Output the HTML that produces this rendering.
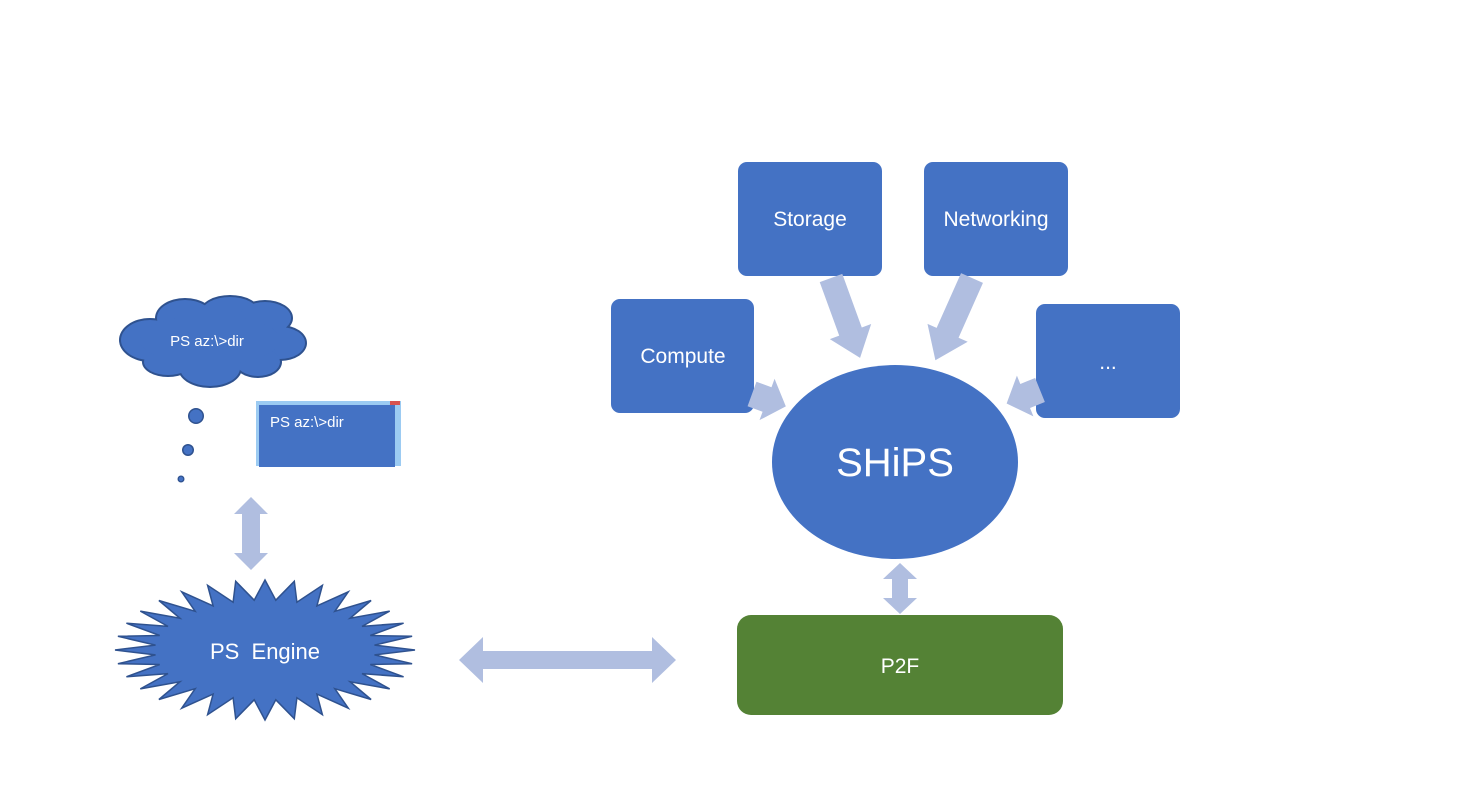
<!DOCTYPE html>
<html><head><style>
body{margin:0;background:#fff;width:1459px;height:801px;overflow:hidden}
svg text{font-family:"Liberation Sans","DejaVu Sans",sans-serif;fill:#fff}
</style></head><body>
<svg width="1459" height="801" viewBox="0 0 1459 801" xmlns="http://www.w3.org/2000/svg">
<g fill="#4472C4">
<rect x="738" y="162" width="144" height="114" rx="9"/>
<rect x="924" y="162" width="144" height="114" rx="9"/>
<rect x="611" y="299" width="143" height="114" rx="9"/>
<rect x="1036" y="304" width="144" height="114" rx="9"/>
<ellipse cx="895" cy="462" rx="123" ry="97"/>
</g>
<rect x="737" y="615" width="326" height="100" rx="14" fill="#548235"/>
<g fill="#B0BEE0">
<g transform="translate(831,278) rotate(70)"><polygon points="0,-12 57,-12 57,-22 85,0 57,22 57,12 0,12"/></g>
<g transform="translate(972,278) rotate(114)"><polygon points="0,-12 60,-12 60,-22 90,0 60,22 60,12 0,12"/></g>
<g transform="translate(752,394) rotate(20)"><polygon points="0,-13 16,-13 16,-22 36,0 16,22 16,13 0,13"/></g>
<g transform="translate(1040,390) rotate(158)"><polygon points="0,-13 16,-13 16,-22 36,0 16,22 16,13 0,13"/></g>
<polygon points="251,497 268,514 260,514 260,553 268,553 251,570 234,553 242,553 242,514 234,514"/>
<polygon points="900,563 917,579 908,579 908,598 917,598 900,614 883,598 892,598 892,579 883,579"/>
<polygon points="459,660 483,637 483,651 652,651 652,637 676,660 652,683 652,669 483,669 483,683"/>
</g>
<g fill="#2F528F">
<ellipse cx="150" cy="340" rx="31" ry="22"/><ellipse cx="185" cy="318" rx="30" ry="20"/>
<ellipse cx="230" cy="312" rx="30" ry="17"/><ellipse cx="265" cy="318" rx="28" ry="18"/>
<ellipse cx="280" cy="343" rx="27" ry="18"/><ellipse cx="258" cy="362" rx="24" ry="16"/>
<ellipse cx="210" cy="368" rx="32" ry="20"/><ellipse cx="168" cy="362" rx="26" ry="15"/>
<circle cx="196" cy="416" r="8"/><circle cx="188" cy="450" r="6"/><circle cx="181" cy="479" r="3.5"/>
</g>
<g fill="#4472C4">
<ellipse cx="150" cy="340" rx="29" ry="20"/><ellipse cx="185" cy="318" rx="28" ry="18"/>
<ellipse cx="230" cy="312" rx="28" ry="15"/><ellipse cx="265" cy="318" rx="26" ry="16"/>
<ellipse cx="280" cy="343" rx="25" ry="16"/><ellipse cx="258" cy="362" rx="22" ry="14"/>
<ellipse cx="210" cy="368" rx="30" ry="18"/><ellipse cx="168" cy="362" rx="24" ry="13"/>
<ellipse cx="210" cy="340" rx="70" ry="25"/>
<circle cx="196" cy="416" r="6.5"/><circle cx="188" cy="450" r="4.5"/><circle cx="181" cy="479" r="2.2"/>
</g>
<text x="207" y="346" font-size="15" text-anchor="middle">PS az:\&gt;dir</text>
<rect x="256" y="401" width="145" height="65" fill="#9CCBF2"/>
<rect x="259" y="405" width="136" height="62" fill="#4472C4"/>
<rect x="390" y="401" width="10" height="4" fill="#d9534f"/>
<text x="270" y="427" font-size="15">PS az:\&gt;dir</text>
<polygon id="star" fill="#4472C4" stroke="#2F528F" stroke-width="1.5" points=""/>
<text x="265" y="659" font-size="22" text-anchor="middle" xml:space="preserve">PS  Engine</text>
<text x="810" y="226" font-size="21" text-anchor="middle">Storage</text>
<text x="996" y="226" font-size="21" text-anchor="middle">Networking</text>
<text x="683" y="363" font-size="21" text-anchor="middle">Compute</text>
<text x="1108" y="369" font-size="21" text-anchor="middle">...</text>
<text x="895" y="476" font-size="40" text-anchor="middle">SHiPS</text>
<text x="900" y="673" font-size="21" text-anchor="middle">P2F</text>
</svg>
<script>
var p=[],n=32,cx=265,cy=650;
for(var i=0;i<n*2;i++){var a=Math.PI*i/n;var o=i%2==0;var rx=o?150:110,ry=o?70:50;p.push((cx+rx*Math.cos(a)).toFixed(1)+","+(cy+ry*Math.sin(a)).toFixed(1));}
document.getElementById("star").setAttribute("points",p.join(" "));
</script>
</body></html>
